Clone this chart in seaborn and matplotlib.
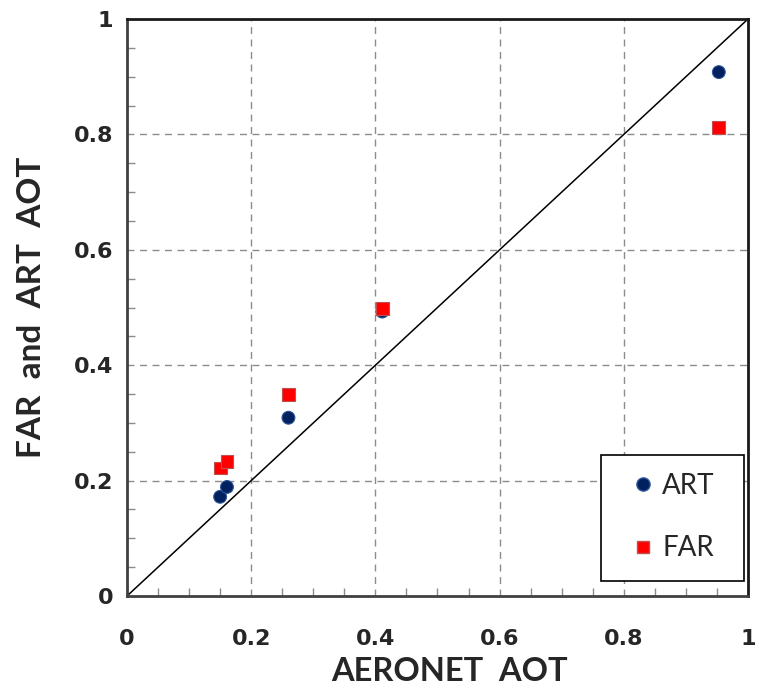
import numpy as np
import pandas as pd
import seaborn as sns
import matplotlib.pyplot as plt
from matplotlib.ticker import MultipleLocator
from matplotlib.lines import Line2D
from matplotlib.patches import Rectangle

# AERONET reference AOT and retrieved AOT from the two methods
aeronet_aot = [0.15, 0.161, 0.26, 0.411, 0.953]
art_aot = [0.172, 0.189, 0.309, 0.493, 0.908]
far_aot = [0.222, 0.233, 0.349, 0.498, 0.812]
methods = ["ART", "FAR"]
tick_values = [0, 0.2, 0.4, 0.6, 0.8, 1]
tick_labels = ["0", "0.2", "0.4", "0.6", "0.8", "1"]

df = pd.DataFrame({
    "aeronet": aeronet_aot * 2,
    "retrieved": art_aot + far_aot,
    "method": [methods[0]] * len(art_aot) + [methods[1]] * len(far_aot),
})

face = {"ART": "#002060", "FAR": "#ff0000"}
edge = {"ART": "#2f5597", "FAR": "#c0504d"}

sns.set_style("white")
plt.rcParams["font.family"] = ["DejaVu Sans"]

fig = plt.figure(figsize=(7.59, 6.92), dpi=100)
ax = fig.add_axes([0.1673, 0.1387, 0.8182, 0.8338])

# gridlines every 0.2
for v in tick_values[1:-1]:
    ax.axvline(v, color="#8c8c8c", lw=1.0, ls=(0, (5, 4)), zorder=0)
    ax.axhline(v, color="#8c8c8c", lw=1.0, ls=(0, (5, 4)), zorder=0)

# 1:1 line
ax.plot([0, 1], [0, 1], color="black", lw=1.1, zorder=1)

sns.scatterplot(
    data=df, x="aeronet", y="retrieved", hue="method", style="method",
    palette=face, markers={"ART": "o", "FAR": "s"},
    s=85, linewidth=0.8, ax=ax, zorder=3, legend=False,
)
for c in ax.collections:
    fc = c.get_facecolors()
    if len(fc):
        c.set_edgecolor([edge["ART"] if f[2] > f[0] else edge["FAR"] for f in fc])

ax.set_xlim(0, 1)
ax.set_ylim(0, 1)
ax.set_xticks(tick_values)
ax.set_yticks(tick_values)
ax.set_xticklabels(tick_labels)
ax.set_yticklabels(tick_labels)
ax.xaxis.set_minor_locator(MultipleLocator(0.05))
ax.yaxis.set_minor_locator(MultipleLocator(0.05))
ax.tick_params(axis="both", which="major", length=0, labelsize=16)
ax.tick_params(axis="x", which="major", pad=24)
ax.tick_params(axis="y", which="major", pad=10)
ax.tick_params(axis="both", which="minor", direction="in", length=6,
               color="#8c8c8c", width=1.0, bottom=True, left=True,
               top=False, right=False)
for lab in ax.get_xticklabels() + ax.get_yticklabels():
    lab.set_fontweight("bold")

for side, sp in ax.spines.items():
    sp.set_visible(True)
    sp.set_linewidth(2.0)
    sp.set_color("#1a1a1a" if side in ("top", "right") else "#404040")

ax.set_xlabel("AERONET  AOT", fontsize=23.5, fontweight="bold",
              family=["Lato", "DejaVu Sans"], labelpad=3)
ax.xaxis.set_label_coords(0.52, -0.105)
ax.set_ylabel("FAR  and  ART  AOT", fontsize=24, fontweight="bold",
              family=["Lato", "DejaVu Sans"], labelpad=20)

# legend box and entries
ax.add_patch(Rectangle((0.763, 0.026), 0.230, 0.218, transform=ax.transAxes,
                       fill=True, facecolor="white", edgecolor="black",
                       lw=1.2, zorder=4))
handles = [
    Line2D([], [], ls="none", marker="o", ms=9.5, mfc=face["ART"], mec=edge["ART"]),
    Line2D([], [], ls="none", marker="s", ms=8.5, mfc=face["FAR"], mec=edge["FAR"]),
]
leg = ax.legend(handles, methods, loc="upper left",
                bbox_to_anchor=(0.808, 0.213), frameon=False,
                prop={"family": ["Lato", "DejaVu Sans"], "size": 20},
                labelspacing=1.3, borderpad=0, handletextpad=0.2,
                handlelength=1.0, borderaxespad=0)
leg.set_zorder(5)

fig.savefig("out.png", dpi=100, facecolor="white")
